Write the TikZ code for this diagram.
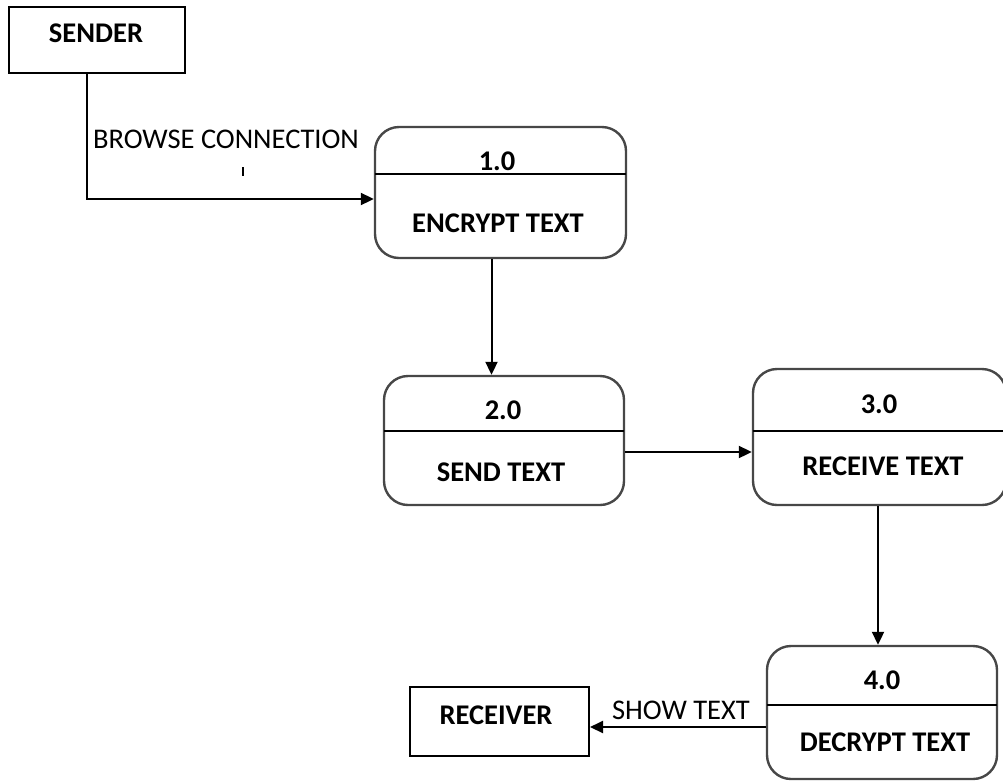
\documentclass[tikz,border=0pt]{standalone}
\usepackage{fontspec}
\setmainfont{Carlito}
\usetikzlibrary{arrows.meta}

\begin{document}
\begin{tikzpicture}[x=1pt,y=-1pt,
  extent/.style={draw=black, line width=2pt, rectangle, inner sep=0pt},
  proc/.style={draw=black!72, line width=2.4pt, rectangle, rounded corners=24pt, inner sep=0pt},
  divider/.style={draw=black, line width=2pt},
  lbl/.style={font=\fontsize{28.5}{32}\selectfont\bfseries, inner sep=0pt},
  flowlbl/.style={font=\fontsize{28.5}{32}\selectfont, inner sep=0pt},
  flow/.style={draw=black, line width=2pt, -{Triangle[length=13pt,width=12pt]}},
]
\useasboundingbox (0,0) rectangle (1003,780);

% external entities
\node[extent, minimum width=176pt, minimum height=66pt] (sender) at (97,40) {};
\node[lbl] (sendert) at (96,33) {SENDER};
\node[extent, minimum width=179pt, minimum height=69pt] (receiver) at (499.5,721.5) {};
\node[lbl] (receivert) at (496,715) {RECEIVER};

% processes
\node[proc, minimum width=251pt, minimum height=131pt] (p1) at (500.5,192.5) {};
\draw[divider] (375,174) -- (626,174);
\node[lbl] (p1n) at (497,161) {1.0};
\node[lbl] (p1t) at (498,223) {ENCRYPT TEXT};

\node[proc, minimum width=240pt, minimum height=129pt] (p2) at (504,440.5) {};
\draw[divider] (384,431) -- (624,431);
\node[lbl] (p2n) at (503,410) {2.0};
\node[lbl] (p2t) at (501,472) {SEND TEXT};

\node[proc, minimum width=253pt, minimum height=136pt] (p3) at (879.5,437) {};
\draw[divider] (753,431) -- (1006,431);
\node[lbl] (p3n) at (879,404) {3.0};
\node[lbl] (p3t) at (883,466) {RECEIVE TEXT};

\node[proc, minimum width=230pt, minimum height=133pt] (p4) at (882,712.5) {};
\draw[divider] (767,705) -- (997,705);
\node[lbl] (p4n) at (882,680) {4.0};
\node[lbl] (p4t) at (885,742) {DECRYPT TEXT};

% data flows
\draw[flow] ([xshift=-10pt]sender.south) |- ([yshift=-6.5pt]p1.west);
\node[flowlbl] (browse) at (226,139) {BROWSE CONNECTION};
\draw[line width=1.4pt] (243,167) -- (243,176);

\draw[flow] ([xshift=-9pt]p1.south) -- ([xshift=-9pt]p1.south |- p2.north);
\draw[flow] ([yshift=-11.5pt]p2.east) -- ([yshift=-11.5pt]p2.east -| p3.west);
\draw[flow] ([xshift=-1.5pt]p3.south) -- ([xshift=-1.5pt]p3.south |- p4.north);
\draw[flow] ([yshift=-14.5pt]p4.west) -- ([yshift=-14.5pt]p4.west -| receiver.east);
\node[flowlbl] (show) at (681,710) {SHOW TEXT};
\end{tikzpicture}
\end{document}
